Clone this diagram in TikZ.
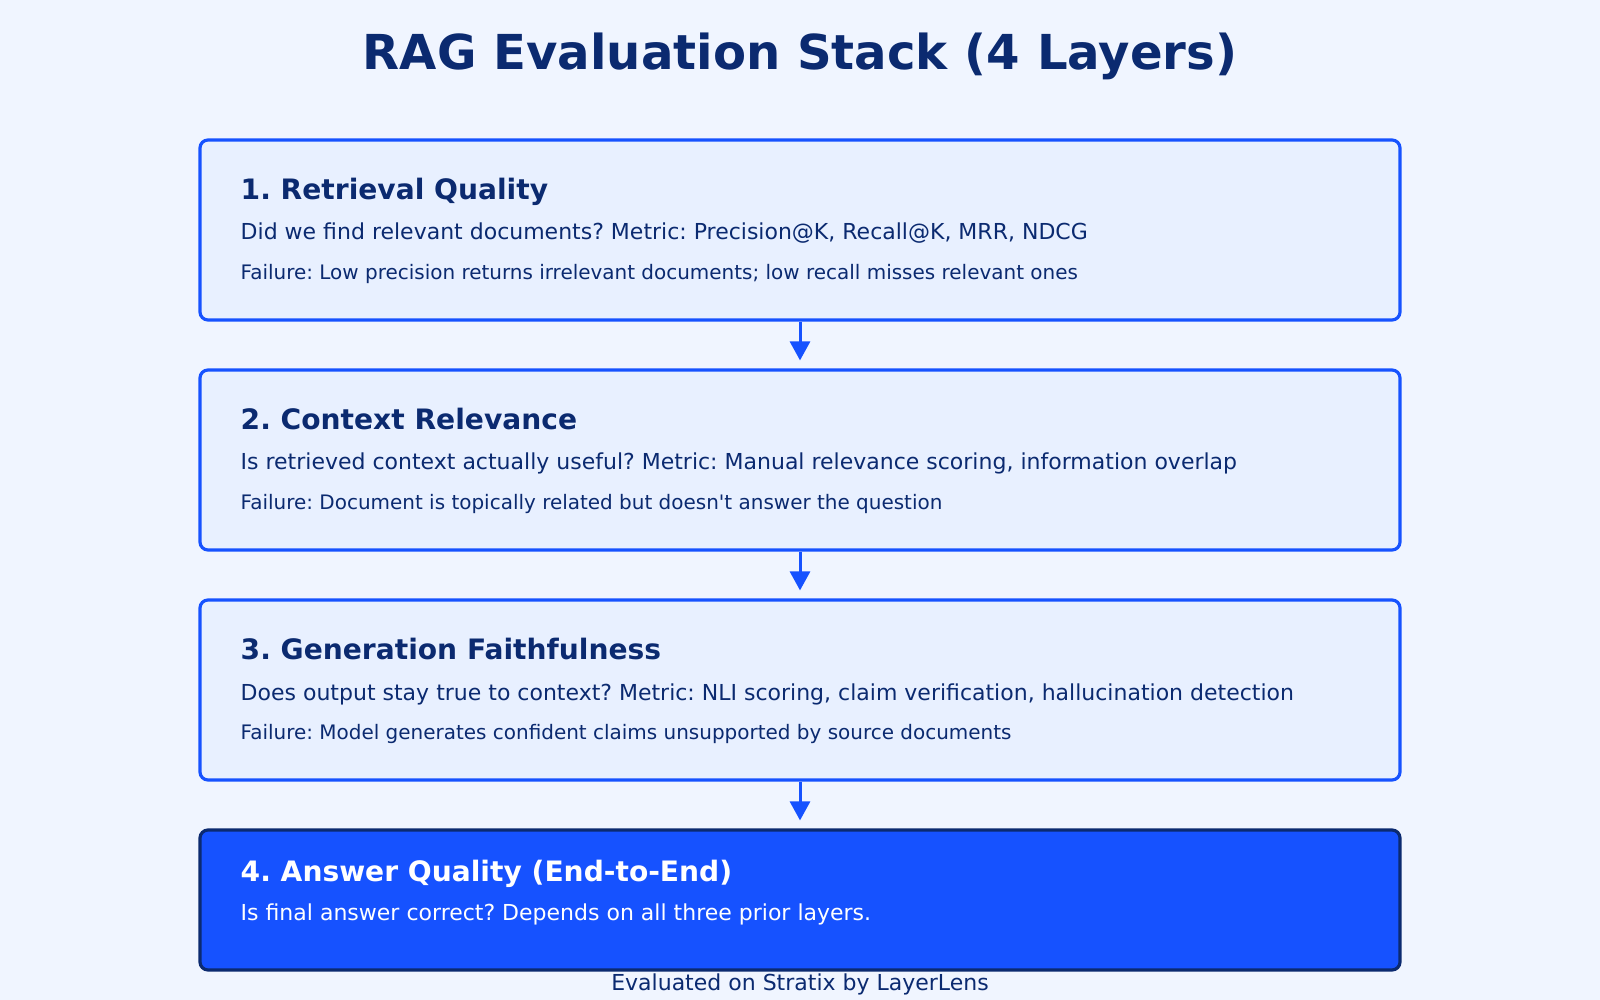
\documentclass[tikz,border=0pt]{standalone}
\usepackage{fontspec}
\setmainfont{DejaVu Sans}
\usepackage{tikz}
\usetikzlibrary{arrows.meta}
\definecolor{ragbg}{HTML}{F0F5FF}
\definecolor{ragfill}{HTML}{E8F0FF}
\definecolor{ragblue}{HTML}{1652FF}
\definecolor{ragnavy}{HTML}{0B2A70}
\frenchspacing

\begin{document}
\begin{tikzpicture}[
    layer/.style={draw=#1, line width=0.9pt, rounded corners=0.08cm,
                  minimum width=12cm, inner sep=0pt},
    head/.style={anchor=base west, inner sep=0pt, text=#1,
                 font=\fontsize{8}{9.6}\selectfont\bfseries},
    body/.style={anchor=base west, inner sep=0pt, text=#1,
                 font=\fontsize{6.26}{7.5}\selectfont},
    fail/.style={anchor=base west, inner sep=0pt, text=ragnavy,
                 font=\fontsize{5.68}{6.8}\selectfont},
    flow/.style={draw=ragblue, line width=0.85pt, shorten >=0.08cm,
                 -{Triangle[width=0.2cm, length=0.19cm]}},
]
    \fill[ragbg] (0,0) rectangle (16,-10);
    \useasboundingbox (0,0) rectangle (16,-10);

    % Title
    \node[anchor=base, inner sep=0pt, text=ragnavy,
          font=\fontsize{13.7}{16}\selectfont\bfseries] (title) at (8,-0.7)
          {RAG Evaluation Stack (4 Layers)};

    % Layer 1
    \node[layer=ragblue, fill=ragfill, minimum height=1.8cm] (l1) at (8,-2.3) {};
    \node[head=ragnavy] (l1h) at (2.4,-2.0) {1. Retrieval Quality};
    \node[body=ragnavy] (l1b) at (2.4,-2.4) {Did we find relevant documents? Metric: Precision@K, Recall@K, MRR, NDCG};
    \node[fail] (l1f) at (2.4,-2.8) {Failure: Low precision returns irrelevant documents; low recall misses relevant ones};

    % Layer 2
    \node[layer=ragblue, fill=ragfill, minimum height=1.8cm] (l2) at (8,-4.6) {};
    \node[head=ragnavy] (l2h) at (2.4,-4.3) {2. Context Relevance};
    \node[body=ragnavy] (l2b) at (2.4,-4.7) {Is retrieved context actually useful? Metric: Manual relevance scoring, information overlap};
    \node[fail] (l2f) at (2.4,-5.1) {Failure: Document is topically related but doesn\textquotesingle t answer the question};

    % Layer 3
    \node[layer=ragblue, fill=ragfill, minimum height=1.8cm] (l3) at (8,-6.9) {};
    \node[head=ragnavy] (l3h) at (2.4,-6.6) {3. Generation Faithfulness};
    \node[body=ragnavy] (l3b) at (2.4,-7.0) {Does output stay true to context? Metric: NLI scoring, claim verification, hallucination detection};
    \node[fail] (l3f) at (2.4,-7.4) {Failure: Model generates confident claims unsupported by source documents};

    % Layer 4
    \node[layer=ragnavy, fill=ragblue, minimum height=1.4cm] (l4) at (8,-9.0) {};
    \node[head=white] (l4h) at (2.4,-8.81) {4. Answer Quality (End-to-End)};
    \node[body=white] (l4b) at (2.4,-9.2) {Is final answer correct? Depends on all three prior layers.};

    % Arrows
    \draw[flow] (l1.south) -- (l2.north);
    \draw[flow] (l2.south) -- (l3.north);
    \draw[flow] (l3.south) -- (l4.north);

    % Footer
    \node[anchor=base, inner sep=0pt, text=ragnavy,
          font=\fontsize{6.26}{7.5}\selectfont] (foot) at (8,-9.9)
          {Evaluated on Stratix by LayerLens};
\end{tikzpicture}
\end{document}
